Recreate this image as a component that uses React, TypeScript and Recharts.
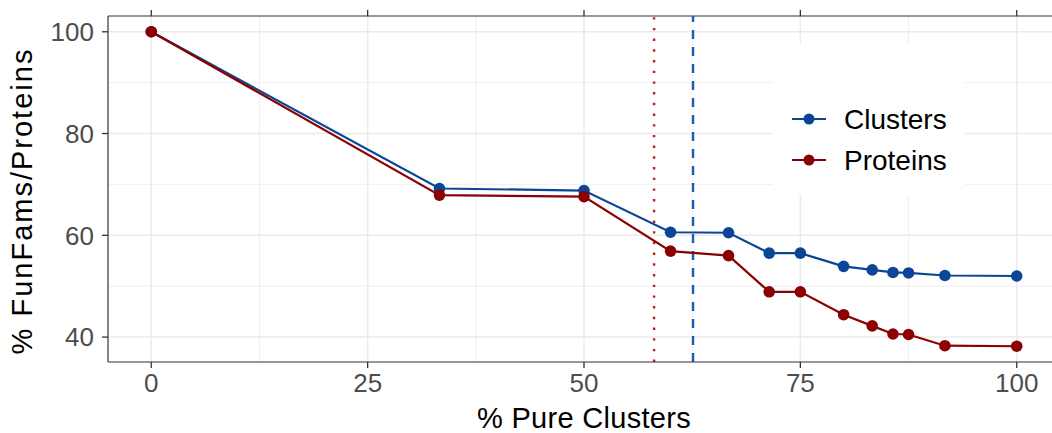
import React from 'react';
import {
  ComposedChart, Line, XAxis, YAxis, CartesianGrid, ReferenceLine, Legend, Label,
} from 'recharts';

// % pure clusters (x) and the two recovered percentages
const purity = [0, 33.3, 50, 60, 66.7, 71.4, 75, 80, 83.3, 85.7, 87.5, 91.7, 100];
const clusters = [100, 69.2, 68.8, 60.6, 60.5, 56.5, 56.5, 53.9, 53.2, 52.7, 52.6, 52.1, 52.0];
const proteins = [100, 67.9, 67.6, 56.9, 56.0, 48.9, 48.9, 44.4, 42.2, 40.6, 40.5, 38.3, 38.2];

const xTicks = [0, 25, 50, 75, 100];
const yTicks = [40, 60, 80, 100];
const xMinor = [12.5, 37.5, 62.5, 87.5];
const yMinor = [50, 70, 90];

const xDomain: [number, number] = [-5, 105];
const yDomain: [number, number] = [35.1, 103.1];

// threshold lines
const proteinCut = 58.1;
const clusterCut = 62.6;

const BLUE = '#0B4596';
const RED = '#8B0000';
const AXIS = '#333333';
const FONT = '"Liberation Sans", Arial, Helvetica, sans-serif';

const data = purity.map((p, i) => ({ purity: p, Clusters: clusters[i], Proteins: proteins[i] }));

const series = [
  { name: 'Clusters', color: BLUE },
  { name: 'Proteins', color: RED },
];

// top tick length expressed in y units (~6px)
const topTickLen = 1.2;

const LegendBox = () => (
  <svg width={192} height={152} style={{ display: 'block', background: 'white' }}>
    {series.map((s, i) => {
      const y = 76 + i * 41;
      return (
        <g key={s.name}>
          <line x1={19} x2={53} y1={y} y2={y} stroke={s.color} strokeWidth={2.2} />
          <circle cx={36} cy={y} r={5.5} fill={s.color} />
          <text x={71} y={y} dominantBaseline="central" fontSize={28} fontFamily={FONT} fill="#000">
            {s.name}
          </text>
        </g>
      );
    })}
  </svg>
);

export default function App() {
  return (
    <div style={{ position: 'absolute', left: 0, top: 0, width: 1052, height: 433, overflow: 'hidden', background: 'white' }}>
      <ComposedChart
        width={1080}
        height={433}
        data={data}
        margin={{ top: 16, right: 20, bottom: 11, left: 0 }}
        style={{ fontFamily: FONT }}
      >
        <CartesianGrid stroke="#EBEBEB" strokeWidth={0.8} verticalValues={xMinor} horizontalValues={yMinor} />
        <CartesianGrid stroke="#EBEBEB" strokeWidth={1.5} verticalValues={xTicks} horizontalValues={yTicks} />
        {/* panel top border */}
        <CartesianGrid stroke={AXIS} strokeWidth={1.2} vertical={false} horizontalValues={[yDomain[1]]} />
        <XAxis
          dataKey="purity"
          type="number"
          domain={xDomain}
          ticks={xTicks}
          height={60}
          axisLine={{ stroke: AXIS, strokeWidth: 1.2 }}
          tickLine={{ stroke: AXIS, strokeWidth: 1.3 }}
          tickSize={6}
          tickMargin={6}
          tick={{ fill: '#4D4D4D', fontSize: 26, fontFamily: FONT }}
        >
          <Label
            content={({ viewBox }: any) => (
              <text x={viewBox.x + viewBox.width / 2} y={428} textAnchor="middle" fontSize={29} fontFamily={FONT} fill="#000" letterSpacing={0.3}>
                % Pure Clusters
              </text>
            )}
          />
        </XAxis>
        <YAxis
          type="number"
          domain={yDomain}
          ticks={yTicks}
          width={108}
          allowDataOverflow
          axisLine={{ stroke: AXIS, strokeWidth: 1.2 }}
          tickLine={{ stroke: AXIS, strokeWidth: 1.3 }}
          tickSize={6}
          tickMargin={8}
          tick={{ fill: '#4D4D4D', fontSize: 26, fontFamily: FONT }}
        >
          <Label
            content={() => (
              <text
                x={0}
                y={0}
                transform="translate(32 201) rotate(-90)"
                textAnchor="middle"
                fontSize={29}
                fontFamily={FONT}
                fill="#000"
                letterSpacing={2}
              >
                % FunFams/Proteins
              </text>
            )}
          />
        </YAxis>
        {/* unlabeled tick marks above the panel */}
        {xTicks.map((t) => (
          <ReferenceLine
            key={`tt${t}`}
            segment={[{ x: t, y: yDomain[1] }, { x: t, y: yDomain[1] + topTickLen }]}
            stroke={AXIS}
            strokeWidth={1.3}
            ifOverflow="visible"
          />
        ))}
        <Legend
          layout="vertical"
          align="center"
          verticalAlign="middle"
          content={LegendBox}
          wrapperStyle={{ left: 773, top: 43, width: 192, height: 152 }}
        />
        <ReferenceLine x={proteinCut} stroke="#B22222" strokeWidth={2.4} strokeDasharray="2.4 8.3" />
        <ReferenceLine x={clusterCut} stroke="#1F5CAD" strokeWidth={2.4} strokeDasharray="9 8" />
        {series.map((s) => (
          <Line
            key={s.name}
            dataKey={s.name}
            type="linear"
            stroke={s.color}
            strokeWidth={2.2}
            dot={{ r: 5.8, fill: s.color, stroke: 'none' }}
            activeDot={false}
            isAnimationActive={false}
          />
        ))}
      </ComposedChart>
    </div>
  );
}
